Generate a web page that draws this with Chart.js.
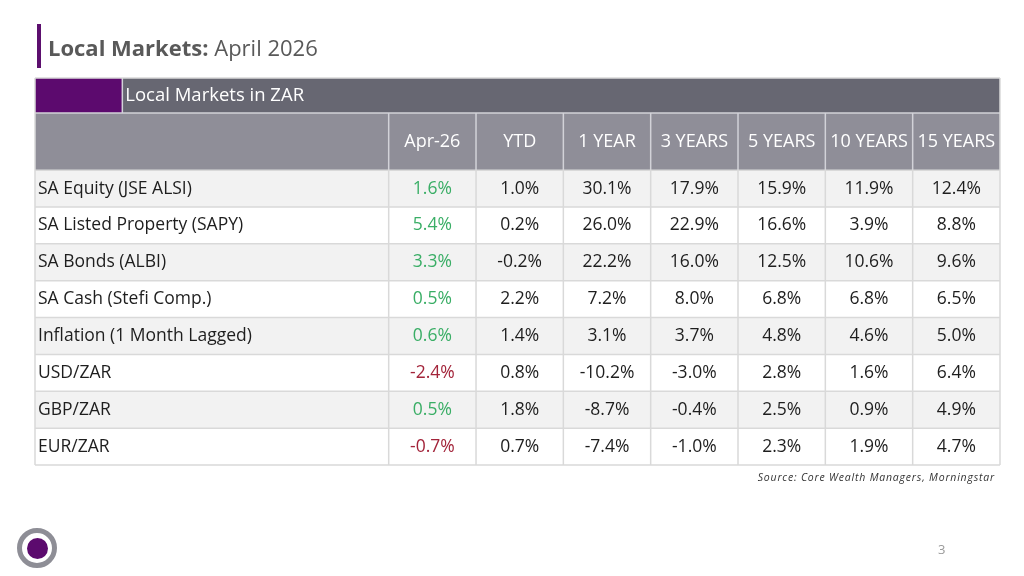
<!DOCTYPE html>
<html>
<head>
<meta charset="utf-8">
<script src="https://cdn.jsdelivr.net/npm/chart.js@4.4.1/dist/chart.umd.min.js"></script>
<style>
  html, body { margin: 0; padding: 0; background: #fff; }
  body { width: 1024px; height: 576px; position: relative; overflow: hidden; font-family: 'Open Sans', sans-serif; }
  #tabel { position: absolute; left: 0; top: 0; }
  .judul { position: absolute; left: 37px; top: 24px; height: 44px; border-left: 4px solid #5c0f6e;
           padding-left: 7px; font-size: 22px; line-height: 46px; color: #595959; white-space: nowrap; }
  .judul b { font-weight: 700; }
  .sumber { position: absolute; right: 29px; top: 470px; font-size: 10.5px; font-style: italic; color: #333;
            letter-spacing: 0.8px; white-space: nowrap; }
  .halaman { position: absolute; left: 938px; top: 540px; font-size: 13px; color: #9a9a9a; }
  .logo { position: absolute; left: 17px; top: 528px; width: 30px; height: 30px; border: 5px solid #8e8e96;
          border-radius: 50%; }
  .logo i { position: absolute; left: 4.5px; top: 4.5px; width: 21px; height: 21px; border-radius: 50%; background: #5c0a6e; }
</style>
</head>
<body>
<canvas id="tabel" width="1024" height="576"></canvas>
<div class="judul"><b>Local Markets:</b> April 2026</div>
<div class="sumber">Source: Core Wealth Managers, Morningstar</div>
<div class="halaman">3</div>
<div class="logo"><i></i></div>
<script>
// Data tabel Local Markets in ZAR (dalam persen)
const judulTabel = 'Local Markets in ZAR';
const kategori = ['SA Equity (JSE ALSI)', 'SA Listed Property (SAPY)', 'SA Bonds (ALBI)', 'SA Cash (Stefi Comp.)',
  'Inflation (1 Month Lagged)', 'USD/ZAR', 'GBP/ZAR', 'EUR/ZAR'];
const periode = ['Apr-26', 'YTD', '1 YEAR', '3 YEARS', '5 YEARS', '10 YEARS', '15 YEARS'];
const apr26 = [1.6, 5.4, 3.3, 0.5, 0.6, -2.4, 0.5, -0.7];
const ytd = [1.0, 0.2, -0.2, 2.2, 1.4, 0.8, 1.8, 0.7];
const tahun1 = [30.1, 26.0, 22.2, 7.2, 3.1, -10.2, -8.7, -7.4];
const tahun3 = [17.9, 22.9, 16.0, 8.0, 3.7, -3.0, -0.4, -1.0];
const tahun5 = [15.9, 16.6, 12.5, 6.8, 4.8, 2.8, 2.5, 2.3];
const tahun10 = [11.9, 3.9, 10.6, 6.8, 4.6, 1.6, 0.9, 1.9];
const tahun15 = [12.4, 8.8, 9.6, 6.5, 5.0, 6.4, 4.9, 4.7];
const kolom = [apr26, ytd, tahun1, tahun3, tahun5, tahun10, tahun15];

// batas skala: kolom label & baris header ada di nilai negatif
const X_LABEL = -4.05, X_UNGU = -3.05;
const Y_HEAD1 = -2.5, Y_HEAD2 = -1.55;

const FONT = "'Open Sans', sans-serif";
const warnaTeks = '#1e1e1e';
const hijau = '#3aae66', merah = '#a3243a';

const datasets = kolom.map((nilai, j) => ({
  label: periode[j],
  data: nilai.map((v, i) => ({ x: j + 0.5, y: i + 0.5, v: v })),
  pointRadius: 0
}));

const pluginTabel = {
  id: 'pluginTabel',
  beforeDatasetsDraw(chart) {
    const { ctx, scales: { x, y } } = chart;
    const kiri = x.getPixelForValue(X_LABEL), kanan = x.getPixelForValue(periode.length);
    const xUngu = x.getPixelForValue(X_UNGU);
    const h1 = y.getPixelForValue(Y_HEAD1), h2 = y.getPixelForValue(Y_HEAD2), h3 = y.getPixelForValue(0);
    const bawah = y.getPixelForValue(kategori.length);
    ctx.save();
    // header baris 1
    ctx.fillStyle = '#676772';
    ctx.fillRect(kiri, h1, kanan - kiri, h2 - h1);
    ctx.fillStyle = '#5c0a6e';
    ctx.fillRect(kiri, h1, xUngu - kiri, h2 - h1);
    // header baris 2
    ctx.fillStyle = '#8f8e98';
    ctx.fillRect(kiri, h2, kanan - kiri, h3 - h2);
    // baris data (selang-seling)
    kategori.forEach((k, i) => {
      const a = y.getPixelForValue(i), b = y.getPixelForValue(i + 1);
      ctx.fillStyle = i % 2 === 0 ? '#f2f2f2' : '#ffffff';
      ctx.fillRect(kiri, a, kanan - kiri, b - a);
    });
    // garis header
    ctx.strokeStyle = '#d2d2d8';
    ctx.lineWidth = 1.5;
    ctx.beginPath();
    ctx.moveTo(kiri, h2); ctx.lineTo(kanan, h2);
    ctx.moveTo(xUngu, h1); ctx.lineTo(xUngu, h2);
    for (let j = 0; j < periode.length; j++) {
      const px = x.getPixelForValue(j);
      ctx.moveTo(px, h2); ctx.lineTo(px, h3);
    }
    ctx.stroke();
    // garis data
    ctx.strokeStyle = '#d9d9d9';
    ctx.beginPath();
    for (let i = 0; i <= kategori.length; i++) {
      const py = y.getPixelForValue(i);
      ctx.moveTo(kiri, py); ctx.lineTo(kanan, py);
    }
    for (let j = 0; j < periode.length; j++) {
      const px = x.getPixelForValue(j);
      ctx.moveTo(px, h3); ctx.lineTo(px, bawah);
    }
    ctx.moveTo(kiri, h1); ctx.lineTo(kiri, bawah);
    ctx.moveTo(kanan, h1); ctx.lineTo(kanan, bawah);
    ctx.moveTo(kiri, h1); ctx.lineTo(kanan, h1);
    ctx.stroke();
    ctx.restore();
  },
  afterDatasetsDraw(chart) {
    const { ctx, scales: { x, y } } = chart;
    ctx.save();
    ctx.textBaseline = 'middle';
    // judul tabel
    ctx.fillStyle = '#fff';
    ctx.font = '18.5px ' + FONT;
    ctx.textAlign = 'left';
    ctx.fillText(judulTabel, x.getPixelForValue(X_UNGU) + 3, y.getPixelForValue((Y_HEAD1 + Y_HEAD2) / 2));
    // header periode
    ctx.textAlign = 'center';
    ctx.font = '18px ' + FONT;
    periode.forEach((p, j) => {
      ctx.fillText(p, x.getPixelForValue(j + 0.5), y.getPixelForValue(Y_HEAD2 / 2));
    });
    // label kategori
    ctx.textAlign = 'left';
    ctx.fillStyle = warnaTeks;
    ctx.font = '17.5px ' + FONT;
    kategori.forEach((k, i) => {
      ctx.fillText(k, x.getPixelForValue(X_LABEL) + 3, y.getPixelForValue(i + 0.5));
    });
    // nilai dari elemen titik
    ctx.textAlign = 'center';
    ctx.font = '17.5px ' + FONT;
    chart.data.datasets.forEach((ds, j) => {
      const meta = chart.getDatasetMeta(j);
      meta.data.forEach((el, i) => {
        const v = ds.data[i].v;
        ctx.fillStyle = j === 0 ? (v < 0 ? merah : hijau) : warnaTeks;
        ctx.fillText(v.toFixed(1) + '%', el.x, el.y);
      });
    });
    ctx.restore();
  }
};

const ctxTabel = document.getElementById('tabel');
let tabelLokal = new Chart(ctxTabel, {
  type: 'scatter',
  data: { datasets: datasets },
  options: {
    responsive: false,
    animation: false,
    layout: { padding: { left: 35, right: 24, top: 78, bottom: 111 } },
    plugins: { legend: { display: false }, tooltip: { enabled: false }, title: { display: false } },
    scales: {
      x: { type: 'linear', min: X_LABEL, max: periode.length, display: false },
      y: { type: 'linear', min: Y_HEAD1, max: kategori.length, reverse: true, display: false }
    }
  },
  plugins: [pluginTabel]
});
</script>
</body>
</html>
